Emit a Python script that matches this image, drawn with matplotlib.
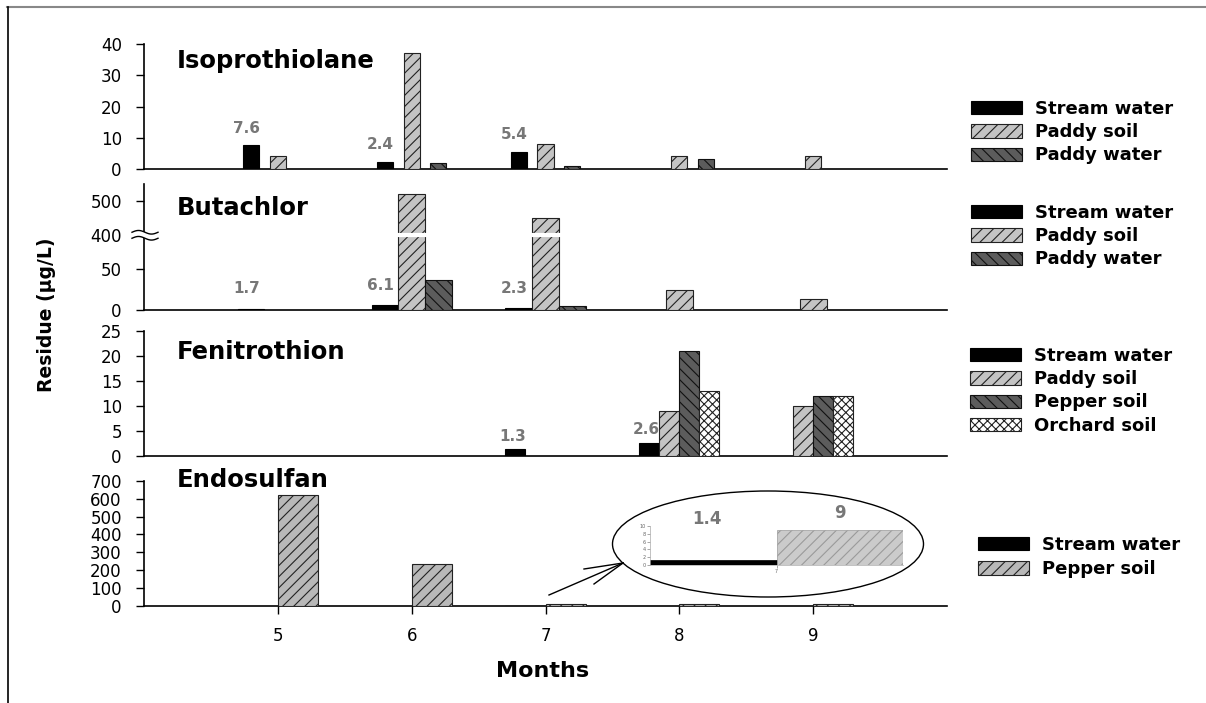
import numpy as np
import matplotlib
matplotlib.use("Agg")
import matplotlib.pyplot as plt
from matplotlib.lines import Line2D
from matplotlib.patches import Ellipse

# ---------------- data ----------------
months = [5, 6, 7, 8, 9]

iso_stream = [7.6, 2.4, 5.4, 0, 0]
iso_paddy_soil = [4.2, 37.2, 8.0, 4.2, 4.2]
iso_paddy_water = [0, 2.0, 1.0, 3.1, 0]

but_stream = [1.7, 6.1, 2.3, 0, 0]
but_paddy_soil = [0, 520, 450, 25, 13]
but_paddy_water = [0, 37, 5, 0, 0]

fen_stream = [0, 0, 1.3, 2.6, 0]
fen_paddy_soil = [0, 0, 0, 9, 10]
fen_pepper_soil = [0, 0, 0, 21, 12]
fen_orchard_soil = [0, 0, 0, 13, 12]

endo_stream = [0, 0, 1.4, 0, 0]
endo_pepper_soil = [620, 235, 9, 13, 12]

inset_month = [7]
inset_stream = [1.4]
inset_pepper = [9]

titles = ["Isoprothiolane", "Butachlor", "Fenitrothion", "Endosulfan"]
iso_ticks = [0, 10, 20, 30, 40]
but_ticks = [0, 50, 400, 500]
fen_ticks = [0, 5, 10, 15, 20, 25]
endo_ticks = [0, 100, 200, 300, 400, 500, 600, 700]
but_break_data = [0, 50, 400, 600]
but_break_disp = [0, 40.7, 75, 143.6]

# ---------------- style ----------------
plt.rcParams['font.family'] = ['DejaVu Sans']
plt.rcParams['hatch.linewidth'] = 0.8

W, H = 1206, 703
fig = plt.figure(figsize=(W / 100, H / 100), dpi=100)

def fx(px):
    return px / W

def fy(py):
    return (H - py) / H

LEFT, RIGHT = 144, 947
panels = [(44, 169), (184, 310), (330.7, 455.7), (480.7, 606)]
axes = []
for top, bot in panels:
    ax = fig.add_axes([fx(LEFT), fy(bot), fx(RIGHT - LEFT), (bot - top) / H])
    axes.append(ax)

STREAM = dict(facecolor='black', edgecolor='black', linewidth=0.8)
PSOIL = dict(facecolor='#c4c4c4', edgecolor='#222222', hatch='///', linewidth=0.8)
PWATER = dict(facecolor='#5c5c5c', edgecolor='#111111', hatch='\\\\\\', linewidth=0.8)
ORCH = dict(facecolor='white', edgecolor='#222222', hatch='xxxx', linewidth=0.8)
EPEP = dict(facecolor='#b8b8b8', edgecolor='#222222', hatch='///', linewidth=0.8)

label_font = dict(fontsize=11, fontweight='bold', color='#777777')
tick_font = 12


def draw(ax, offsets, width, series, styles, names):
    handles = []
    m = np.array(months, dtype=float)
    for off, vals, st, nm in zip(offsets, series, styles, names):
        v = np.array(vals, dtype=float)
        keep = v > 0
        b = ax.bar(m[keep] + off, v[keep], width=width, label=nm, zorder=3, **st)
        handles.append(b)
    return handles


def base_axes(ax, ylim, ticks, title, ty):
    ax.set_xlim(4, 10)
    ax.set_ylim(*ylim)
    ax.set_yticks(ticks)
    ax.set_yticklabels([str(t) for t in ticks], fontsize=tick_font)
    for s in ['top', 'right']:
        ax.spines[s].set_visible(False)
    for s in ['left', 'bottom']:
        ax.spines[s].set_linewidth(1.2)
    ax.tick_params(axis='y', direction='out', length=6, width=1, pad=10)
    ax.text(0.041, ty, title, transform=ax.transAxes, fontsize=17.5, fontweight='bold',
            va='center', ha='left')
    ax.patch.set_visible(False)


def stream_labels(ax, vals, off, dy, dx=-3):
    for mo, v in zip(months, vals):
        if v > 0:
            ax.annotate(f"{v}", xy=(mo + off, v), xytext=(dx, dy), textcoords='offset points',
                        ha='center', va='bottom', **label_font)


# Panel 1: Isoprothiolane
ax = axes[0]
h1 = draw(ax, [-0.2, 0, 0.2], 0.12, [iso_stream, iso_paddy_soil, iso_paddy_water],
          [STREAM, PSOIL, PWATER], ["Stream water", "Paddy soil", "Paddy water"])
base_axes(ax, (0, 40), iso_ticks, titles[0], 0.864)
ax.set_xticks([])
stream_labels(ax, iso_stream, -0.2, 7)

# Panel 2: Butachlor (broken axis)
ax = axes[1]
fwd = lambda v: np.interp(v, but_break_data, but_break_disp)
inv = lambda v: np.interp(v, but_break_disp, but_break_data)
ax.set_yscale('function', functions=(fwd, inv))
h2 = draw(ax, [-0.2, 0, 0.2], 0.2, [but_stream, but_paddy_soil, but_paddy_water],
          [STREAM, PSOIL, PWATER], ["Stream water", "Paddy soil", "Paddy water"])
base_axes(ax, (0, 550), but_ticks, titles[1], 0.81)
ax.yaxis.set_minor_locator(matplotlib.ticker.NullLocator())
ax.set_xticks([])
ax.axhline(400, color='white', lw=3, zorder=5)
stream_labels(ax, but_stream, -0.2, 9)

# Panel 3: Fenitrothion
ax = axes[2]
h3 = draw(ax, [-0.225, -0.075, 0.075, 0.225], 0.15,
          [fen_stream, fen_paddy_soil, fen_pepper_soil, fen_orchard_soil],
          [STREAM, PSOIL, PWATER, ORCH], ["Stream water", "Paddy soil", "Pepper soil", "Orchard soil"])
base_axes(ax, (0, 25), fen_ticks, titles[2], 0.83)
ax.set_xticks([])
stream_labels(ax, fen_stream, -0.225, 4, dx=-2)

# Panel 4: Endosulfan
ax = axes[3]
h4 = draw(ax, [-0.15, 0.15], 0.3, [endo_stream, endo_pepper_soil],
          [STREAM, EPEP], ["Stream water", "Pepper soil"])
base_axes(ax, (0, 700), endo_ticks, titles[3], 1.006)
ax.set_xticks(months)
ax.set_xticklabels([str(m) for m in months], fontsize=tick_font)
ax.tick_params(axis='x', direction='out', length=6, width=1, pad=9)

# axis labels
fig.text(fx(543), fy(671), "Months", ha='center', va='center', fontsize=16, fontweight='bold')
fig.text(fx(47), fy(315), "Residue (µg/L)", ha='center', va='center', rotation=90,
         fontsize=13.5, fontweight='bold')

# break symbol on Butachlor y axis
ax2 = axes[1]
yb = ax2.transData.transform((4, 400))[1]
xb = ax2.transAxes.transform((0, 0))[0]
t = np.linspace(0, 1, 60)
xs = xb - 12 + 26 * t
wave = 1.8 * np.sin(2 * np.pi * t)
inv_fig = fig.transFigure.inverted()
top_line = inv_fig.transform(np.column_stack([xs, yb + 3 + wave]))
bot_line = inv_fig.transform(np.column_stack([xs, yb - 3 + wave]))
poly = np.vstack([top_line, bot_line[::-1]])
fig.add_artist(matplotlib.patches.Polygon(poly, closed=True, facecolor='white', edgecolor='none',
                                          transform=fig.transFigure, zorder=10))
fig.add_artist(Line2D(top_line[:, 0], top_line[:, 1], color='black', lw=1, transform=fig.transFigure, zorder=11))
fig.add_artist(Line2D(bot_line[:, 0], bot_line[:, 1], color='black', lw=1, transform=fig.transFigure, zorder=11))

# legends
leg_kw = dict(loc='upper left', frameon=False, borderpad=0, borderaxespad=0,
              handlelength=2.8, handleheight=0.75, handletextpad=0.75, labelspacing=0.29,
              prop=dict(family='DejaVu Sans', weight='bold', size=13))
fig.legend(h1, [h.get_label() for h in h1], bbox_to_anchor=(fx(971), fy(100)), **leg_kw)
fig.legend(h2, [h.get_label() for h in h2], bbox_to_anchor=(fx(971), fy(204)), **leg_kw)
fig.legend(h3, [h.get_label() for h in h3], bbox_to_anchor=(fx(970), fy(347)), **leg_kw)
fig.legend(h4, [h.get_label() for h in h4], bbox_to_anchor=(fx(978), fy(536)),
           **{**leg_kw, 'labelspacing': 0.35})

# inset in ellipse
ell = Ellipse((fx(768), fy(544)), fx(311), 106 / H, transform=fig.transFigure,
              facecolor='white', edgecolor='black', lw=1, zorder=6)
fig.add_artist(ell)
axi = fig.add_axes([fx(650), fy(565), fx(253), 39 / H], zorder=7)
axi.patch.set_visible(False)
im = np.array(inset_month, dtype=float)
axi.bar(im, inset_stream, width=-0.5, align='edge', facecolor='black', edgecolor='black', lw=0.5)
axi.bar(im, inset_pepper, width=0.5, align='edge', facecolor='#cbcbcb', edgecolor='#9a9a9a',
        hatch='///', lw=0.5)
axi.set_xlim(6.5, 7.5)
axi.set_ylim(0, 10)
axi.set_yticks([0, 2, 4, 6, 8, 10])
axi.set_xticks(inset_month)
axi.tick_params(labelsize=3.5, length=2, width=0.4, colors='#666666', pad=1)
for s in ['top', 'right']:
    axi.spines[s].set_visible(False)
for s in ['left', 'bottom']:
    axi.spines[s].set_linewidth(0.5)
    axi.spines[s].set_color('#aaaaaa')
axi.text(6.725, 1.18, f"{inset_stream[0]}", transform=axi.get_xaxis_transform(), ha='center',
         va='center', fontsize=12, fontweight='bold', color='#777777')
axi.text(7.25, 1.33, f"{inset_pepper[0]:g}", transform=axi.get_xaxis_transform(), ha='center',
         va='center', fontsize=12, fontweight='bold', color='#777777')

# arrow lines
tip = (623, 563)
for start in [(549, 595), (584, 569), (594, 584)]:
    fig.add_artist(Line2D([fx(start[0]), fx(tip[0])], [fy(start[1]), fy(tip[1])],
                          color='black', lw=1, transform=fig.transFigure, zorder=8))

# frame
fig.add_artist(Line2D([fx(7), 1], [fy(6.5), fy(6.5)], color='#888888', lw=1.5, transform=fig.transFigure))
fig.add_artist(Line2D([fx(7.5), fx(7.5)], [fy(6.5), 0], color='black', lw=1.2, transform=fig.transFigure))

fig.savefig("out.png", dpi=100)
